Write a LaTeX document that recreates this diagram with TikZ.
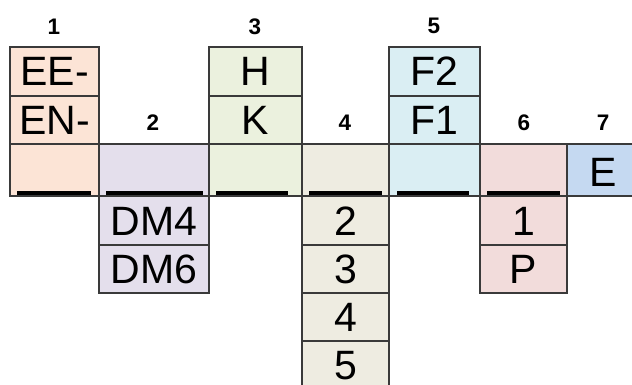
\documentclass[tikz,border=0pt]{standalone}
\usepackage{fontspec}
\setmainfont{Liberation Sans}
\definecolor{cpeach}{HTML}{FCE4D6}
\definecolor{clav}{HTML}{E4DFEC}
\definecolor{cgreen}{HTML}{EBF1DE}
\definecolor{ctan}{HTML}{EEECE1}
\definecolor{cblue}{HTML}{DAEEF3}
\definecolor{cpink}{HTML}{F2DCDB}
\definecolor{cdblue}{HTML}{C5D9F1}
\definecolor{gridc}{HTML}{3A3A3A}
\tikzset{
  cell/.style={draw=gridc, line width=1.2pt, inner sep=0pt, outer sep=0pt,
    text height=29pt, text depth=0pt,
    font=\fontsize{41}{41}\selectfont},
  num/.style={anchor=base, inner sep=0pt, font=\bfseries\fontsize{22.5}{22.5}\selectfont},
  blank/.style={line width=4pt, black}
}
\begin{document}
\begin{tikzpicture}[x=1pt,y=-1pt]
\useasboundingbox (0,0) rectangle (632,385);
\clip (0,0) rectangle (632,385);
% column 1
\node[cell, fill=cpeach, minimum width=89pt, minimum height=49pt] (c1a) at (54.5,71.5) {EE-};
\node[cell, fill=cpeach, minimum width=89pt, minimum height=48pt] (c1b) at (54.5,120) {EN-};
\node[cell, fill=cpeach, minimum width=89pt, minimum height=52pt] (c1c) at (54.5,170) {};
% column 2
\node[cell, fill=clav, minimum width=110pt, minimum height=52pt] (c2c) at (154,170) {};
\node[cell, fill=clav, minimum width=110pt, minimum height=49pt] (c2d) at (154,220.5) {DM4};
\node[cell, fill=clav, minimum width=110pt, minimum height=48pt] (c2e) at (154,269) {DM6};
% column 3
\node[cell, fill=cgreen, minimum width=93pt, minimum height=49pt] (c3a) at (255.5,71.5) {H};
\node[cell, fill=cgreen, minimum width=93pt, minimum height=48pt] (c3b) at (255.5,120) {K};
\node[cell, fill=cgreen, minimum width=93pt, minimum height=52pt] (c3c) at (255.5,170) {};
% column 4
\node[cell, fill=ctan, minimum width=87pt, minimum height=52pt] (c4c) at (345.5,170) {};
\node[cell, fill=ctan, minimum width=87pt, minimum height=49pt] (c4d) at (345.5,220.5) {2};
\node[cell, fill=ctan, minimum width=87pt, minimum height=48pt] (c4e) at (345.5,269) {3};
\node[cell, fill=ctan, minimum width=87pt, minimum height=48pt] (c4f) at (345.5,317) {4};
\node[cell, fill=ctan, minimum width=87pt, minimum height=48pt] (c4g) at (345.5,365) {5};
% column 5
\node[cell, fill=cblue, minimum width=91pt, minimum height=49pt] (c5a) at (434.5,71.5) {F2};
\node[cell, fill=cblue, minimum width=91pt, minimum height=48pt] (c5b) at (434.5,120) {F1};
\node[cell, fill=cblue, minimum width=91pt, minimum height=52pt] (c5c) at (434.5,170) {};
% column 6
\node[cell, fill=cpink, minimum width=87pt, minimum height=52pt] (c6c) at (523.5,170) {};
\node[cell, fill=cpink, minimum width=87pt, minimum height=49pt] (c6d) at (523.5,220.5) {1};
\node[cell, fill=cpink, minimum width=87pt, minimum height=48pt] (c6e) at (523.5,269) {P};
% column 7
\node[cell, fill=cdblue, minimum width=83pt, minimum height=52pt, anchor=west] (c7c) at (567,170) {};
\node[anchor=base, inner sep=0pt, font=\fontsize{41}{41}\selectfont] (e7) at (603.5,186) {E};
% blanks
\draw[blank] (17,193) -- (91,193);
\draw[blank] (106,193) -- (203,193);
\draw[blank] (216,193) -- (288,193);
\draw[blank] (309,193) -- (382,193);
\draw[blank] (397,193) -- (469,193);
\draw[blank] (487,193) -- (560,193);
% numbers
\node[num] (n1) at (54,34.5) {1};
\node[num] (n2) at (153,131) {2};
\node[num] (n3) at (255,34.5) {3};
\node[num] (n4) at (345,131) {4};
\node[num] (n5) at (434,33.5) {5};
\node[num] (n6) at (524,131) {6};
\node[num] (n7) at (603,131) {7};
\end{tikzpicture}
\end{document}
